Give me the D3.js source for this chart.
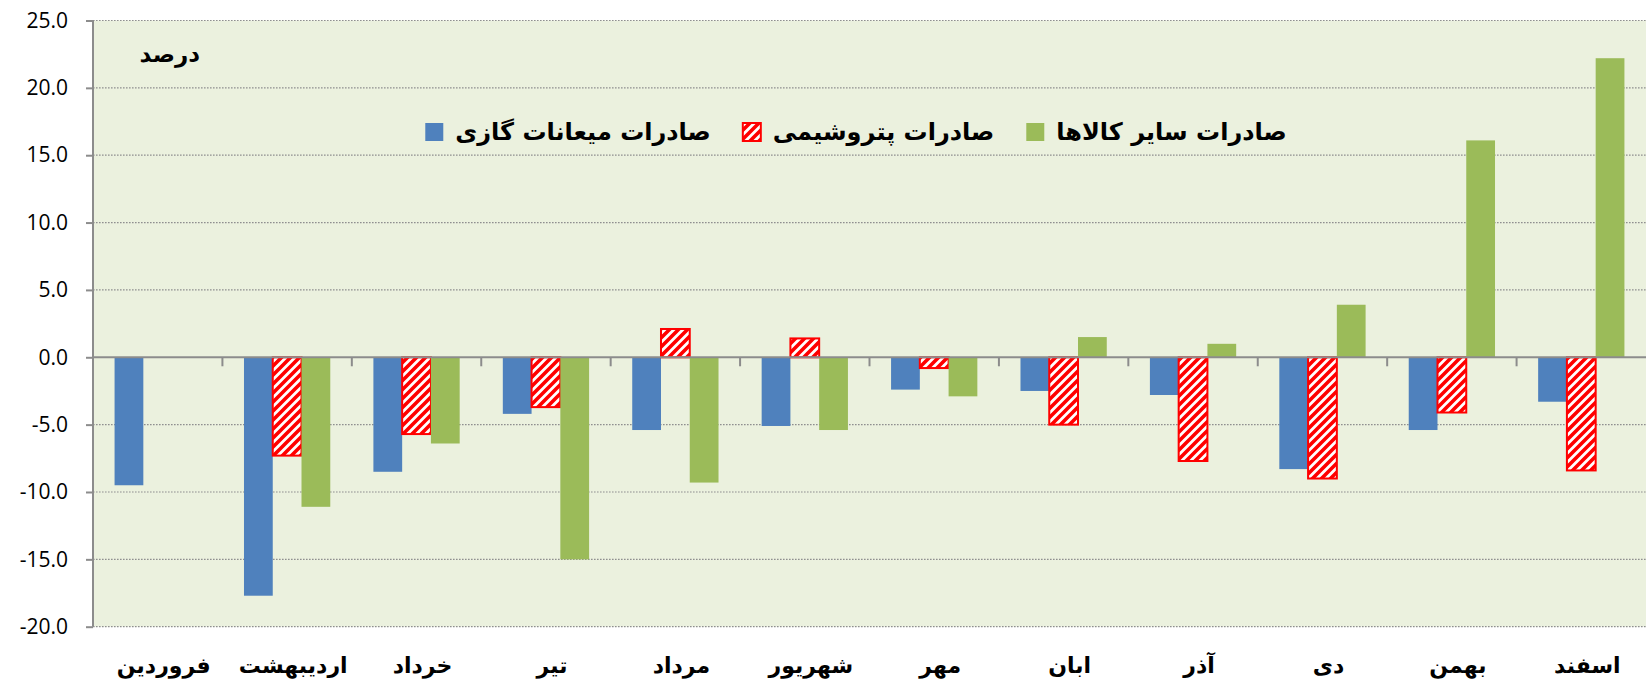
<!DOCTYPE html>
<html>
<head>
<meta charset="utf-8">
<script src="https://cdn.jsdelivr.net/npm/d3@7"></script>
<style>
  html, body { margin: 0; padding: 0; background: #ffffff; }
  svg { display: block; }
</style>
</head>
<body>
<svg id="chart" width="1646" height="685"></svg>
<script>
// Monthly growth rates (percent)
const months = ["فروردین", "اردیبهشت", "خرداد", "تیر", "مرداد", "شهریور", "مهر", "ابان", "آذر", "دی", "بهمن", "اسفند"];
const seriesNames = ["صادرات میعانات گازی", "صادرات پتروشیمی", "صادرات سایر کالاها"];
const gasCondensate = [-9.5, -17.7, -8.5, -4.2, -5.4, -5.1, -2.4, -2.5, -2.8, -8.3, -5.4, -3.3];
const petrochemical = [null, -7.3, -5.7, -3.7, 2.1, 1.4, -0.8, -5.0, -7.7, -9.0, -4.1, -8.4];
const otherGoods = [null, -11.1, -6.4, -15.0, -9.3, -5.4, -2.9, 1.5, 1.0, 3.9, 16.1, 22.2];
const yTicks = [-20, -15, -10, -5, 0, 5, 10, 15, 20, 25];
const unitLabel = "درصد";

const series = [gasCondensate, petrochemical, otherGoods];

const svg = d3.select("#chart");
const plot = { left: 93, right: 1646, top: 20.5, bottom: 626.7 };

const arabicFont = "'DejaVu Sans', sans-serif";

const y = d3.scaleLinear().domain([-20, 25]).range([plot.bottom, plot.top]);
const x = d3.scaleBand().domain(months).range([plot.left, plot.right]).paddingInner(0).paddingOuter(0);
const xs = d3.scaleBand().domain([0, 1, 2]).range([0, x.bandwidth()]).paddingInner(0).paddingOuter(0.75);

// hatch fill for the petrochemical series
const defs = svg.append("defs");
const P = 9;
const pat = defs.append("pattern")
  .attr("id", "hatch").attr("patternUnits", "userSpaceOnUse")
  .attr("width", P).attr("height", P);
pat.append("rect").attr("width", P).attr("height", P).attr("fill", "#ffffff");
pat.append("path")
  .attr("d", `M-2,2 L2,-2 M0,${P} L${P},0 M${P - 2},${P + 2} L${P + 2},${P - 2}`)
  .attr("stroke", "#ff0000").attr("stroke-width", 3.6);

// plot background
svg.append("rect")
  .attr("x", plot.left).attr("y", plot.top)
  .attr("width", plot.right - plot.left).attr("height", plot.bottom - plot.top)
  .attr("fill", "#ebf1de");

// dotted gridlines
svg.append("g").selectAll("line").data(yTicks.filter(d => d !== 0)).join("line")
  .attr("x1", plot.left).attr("x2", plot.right)
  .attr("y1", d => y(d)).attr("y2", d => y(d))
  .attr("stroke", "#8f8f8f").attr("stroke-width", 1.2)
  .attr("stroke-dasharray", "1.6,1.4");

// y axis
const yAxis = d3.axisLeft(y).tickValues(yTicks).tickSize(7).tickPadding(18)
  .tickFormat(d => d.toFixed(1));
const gy = svg.append("g").attr("transform", `translate(${plot.left},0)`).call(yAxis);
gy.select(".domain").attr("stroke", "#8c8c8c").attr("stroke-width", 2)
  .attr("d", `M0,${plot.top}V${plot.bottom}`);
gy.selectAll(".tick line").attr("stroke", "#8c8c8c").attr("stroke-width", 2);
gy.selectAll(".tick text")
  .attr("fill", "#000").attr("font-family", "'Open Sans', sans-serif").attr("font-size", 21);

// bars
const colors = ["#4f81bd", "url(#hatch)", "#9bbb59"];
series.forEach((vals, si) => {
  const g = svg.append("g");
  g.selectAll("rect")
    .data(vals.map((v, i) => ({ v, m: months[i] })).filter(d => d.v !== null))
    .join("rect")
    .attr("x", d => x(d.m) + xs(si))
    .attr("width", xs.bandwidth())
    .attr("y", d => y(Math.max(0, d.v)))
    .attr("height", d => Math.abs(y(d.v) - y(0)))
    .attr("fill", colors[si])
    .attr("stroke", si === 1 ? "#ff0000" : "none")
    .attr("stroke-width", si === 1 ? 2 : 0);
});

// zero line with category ticks
const gx = svg.append("g");
gx.append("line")
  .attr("x1", plot.left).attr("x2", plot.right)
  .attr("y1", y(0)).attr("y2", y(0))
  .attr("stroke", "#8c8c8c").attr("stroke-width", 2);
gx.selectAll("line.ct").data(months.slice(1)).join("line").attr("class", "ct")
  .attr("x1", d => x(d)).attr("x2", d => x(d))
  .attr("y1", y(0)).attr("y2", y(0) + 9)
  .attr("stroke", "#8c8c8c").attr("stroke-width", 2);

// category labels
svg.append("g").selectAll("text").data(months).join("text")
  .attr("x", d => x(d) + x.bandwidth() / 2 + 6)
  .attr("y", 673)
  .attr("text-anchor", "middle")
  .attr("font-family", arabicFont).attr("font-weight", "bold").attr("font-size", 22)
  .attr("fill", "#000")
  .text(d => d);

// unit label
svg.append("text")
  .attr("x", 200).attr("y", 62)
  .attr("text-anchor", "end")
  .attr("font-family", arabicFont).attr("font-weight", "bold").attr("font-size", 23)
  .attr("fill", "#000")
  .text(unitLabel);

// legend, laid out right to left
const legend = svg.append("g");
const legendFills = ["#4f81bd", "url(#hatch)", "#9bbb59"];
const sw = 18, gapSwatch = 12, gapItem = 32, legendY = 132;
const items = [2, 1, 0].map(si => {
  const t = legend.append("text")
    .attr("y", legendY + 8)
    .attr("text-anchor", "end")
    .attr("font-family", arabicFont).attr("font-weight", "bold").attr("font-size", 24)
    .attr("fill", "#000")
    .text(seriesNames[si]);
  return { si, t, w: t.node().getComputedTextLength() };
});
const totalW = d3.sum(items, d => d.w + gapSwatch + sw) + gapItem * (items.length - 1);
let cursor = 856 + totalW / 2;
items.forEach(it => {
  it.t.attr("x", cursor);
  cursor -= it.w + gapSwatch;
  legend.append("rect")
    .attr("x", cursor - sw).attr("y", legendY - sw / 2)
    .attr("width", sw).attr("height", sw)
    .attr("fill", legendFills[it.si])
    .attr("stroke", it.si === 1 ? "#ff0000" : "none")
    .attr("stroke-width", it.si === 1 ? 2 : 0);
  cursor -= sw + gapItem;
});
</script>
</body>
</html>
